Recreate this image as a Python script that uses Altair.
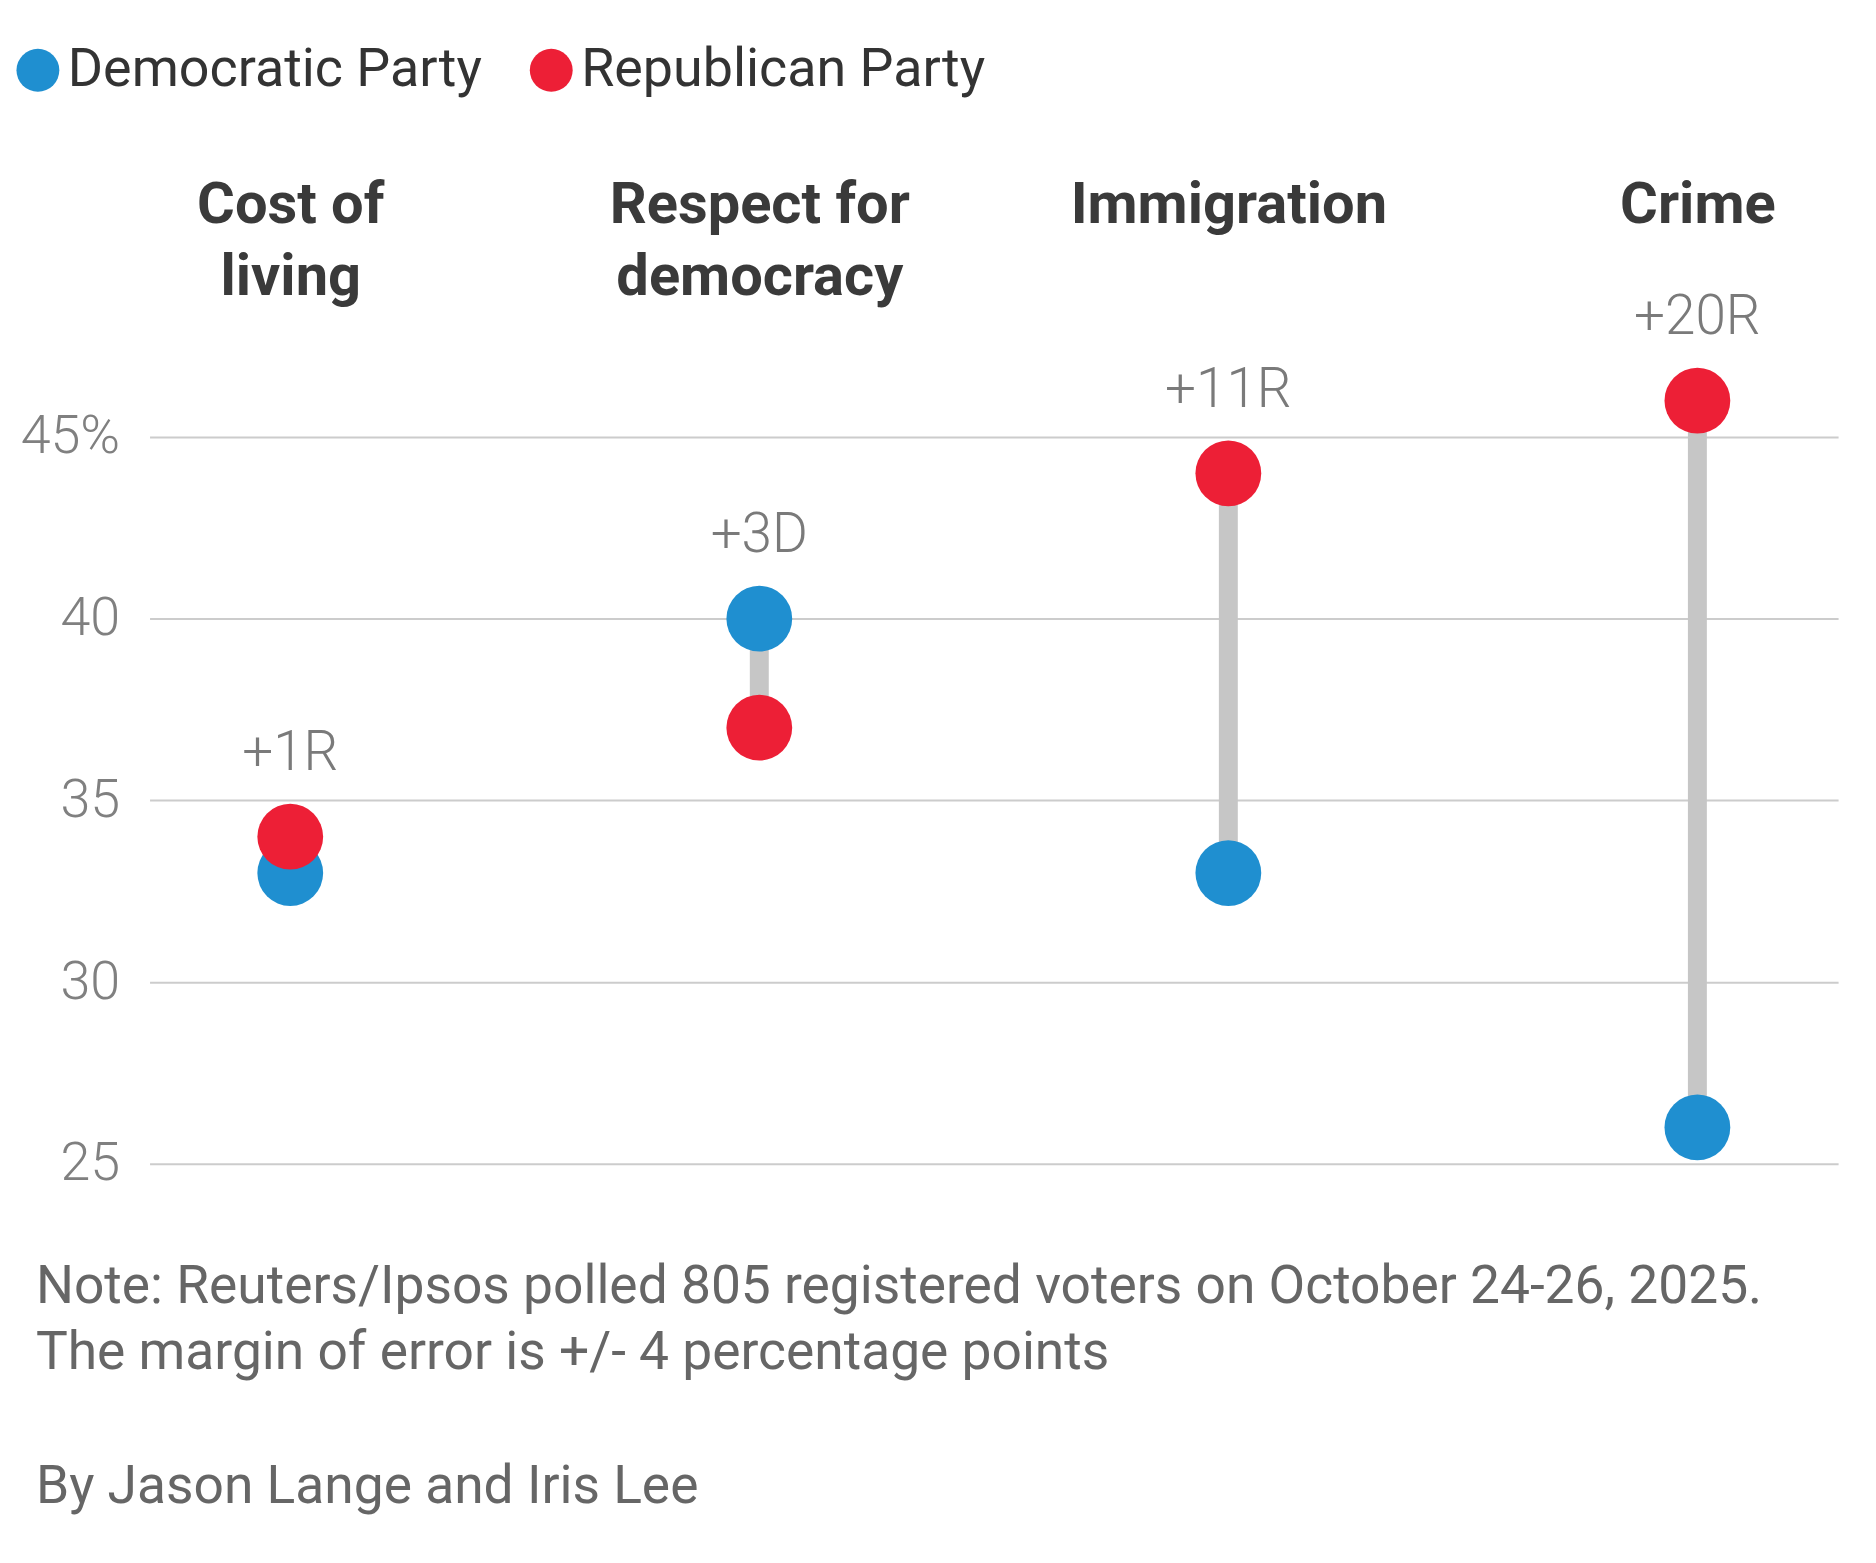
import altair as alt
import pandas as pd

categories = ["Cost of|living", "Respect for|democracy", "Immigration", "Crime"]
dem = [33, 40, 33, 26]
rep = [34, 37, 44, 46]
gap_labels = ["+1R", "+3D", "+11R", "+20R"]
parties = ["Democratic Party", "Republican Party"]
party_colors = ["#1f8fd0", "#ed1f36"]
y_ticks = [25, 30, 35, 40, 45]
note_lines = [
    "Note: Reuters/Ipsos polled 805 registered voters on October 24-26, 2025.",
    "The margin of error is +/- 4 percentage points",
]
byline = "By Jason Lange and Iris Lee"

wide = pd.DataFrame({
    "category": categories,
    "dem": dem,
    "rep": rep,
    "label": gap_labels,
})
wide["top"] = wide[["dem", "rep"]].max(axis=1)

long = pd.concat([
    pd.DataFrame({"category": categories, "party": parties[0], "value": dem}),
    pd.DataFrame({"category": categories, "party": parties[1], "value": rep}),
], ignore_index=True)
long["order"] = range(len(long))

x_enc = alt.X(
    "category:N",
    sort=categories,
    scale=alt.Scale(type="point", padding=0.3),
    axis=alt.Axis(
        orient="top", title=None, domain=False, ticks=False, tickSize=0, grid=False,
        labelAngle=0, labelFont="Roboto", labelFontSize=58, labelFontWeight="bold",
        labelColor="#3a3a3a", labelLineHeight=72, labelBaseline="alphabetic",
        labelPadding=142, labelLimit=1000, labelOverlap=False,
        labelExpr="split(datum.label, '|')",
    ),
)
y_scale = alt.Scale(domain=[25, 47], nice=False, zero=False)
y_axis = alt.Axis(
    title=None, domain=False, ticks=False, grid=True, gridColor="#cccccc",
    gridWidth=2, values=y_ticks, labelFont="Roboto", labelFontSize=54,
    labelColor="#808080", labelPadding=30, labelFontWeight=300,
    labelExpr="datum.value == 45 ? datum.label + '%' : datum.label",
)

base_w = alt.Chart(wide)

rules = base_w.mark_rule(color="#c6c6c6", strokeWidth=19, strokeCap="butt").encode(
    x=x_enc,
    y=alt.Y("dem:Q", scale=y_scale, axis=y_axis),
    y2="rep:Q",
)

dots = alt.Chart(long).mark_circle(size=4356, opacity=1).encode(
    x=alt.X("category:N", sort=categories),
    y=alt.Y("value:Q", scale=y_scale),
    color=alt.Color(
        "party:N",
        scale=alt.Scale(domain=parties, range=party_colors),
        legend=alt.Legend(
            orient="none", legendX=-139, legendY=-322, direction="horizontal",
            title=None, symbolType="circle", symbolSize=1849, symbolStrokeWidth=0,
            symbolOpacity=1, labelFont="Roboto", labelFontSize=54,
            labelColor="#333333", labelOffset=3, columnPadding=42, padding=0,
            labelLimit=1000,
        ),
    ),
    order=alt.Order("order:Q"),
)

labels = base_w.mark_text(
    dy=-84, baseline="middle", align="center", font="Roboto", fontSize=55,
    fontWeight=300, color="#7a7a7a",
).encode(
    x=alt.X("category:N", sort=categories),
    y=alt.Y("top:Q", scale=y_scale),
    text="label:N",
)

chart = alt.layer(rules, dots, labels).properties(
    width=1694,
    height=802,
    autosize=alt.AutoSizeParams(type="none"),
    padding={"left": 142, "top": 355, "right": 30, "bottom": 390},
    title=alt.TitleParams(
        text=note_lines, subtitle=byline, orient="bottom", anchor="start",
        frame="group", font="Roboto", fontSize=53.5, fontWeight="normal",
        color="#666666", lineHeight=66, offset=71, dx=-114, baseline="top",
        subtitleFont="Roboto", subtitleFontSize=53.5, subtitleColor="#666666",
        subtitleLineHeight=66, subtitlePadding=81,
    ),
).configure(font="Roboto").configure_view(strokeWidth=0)

chart.save("out.html", embed_options={"renderer": "svg", "actions": False})
